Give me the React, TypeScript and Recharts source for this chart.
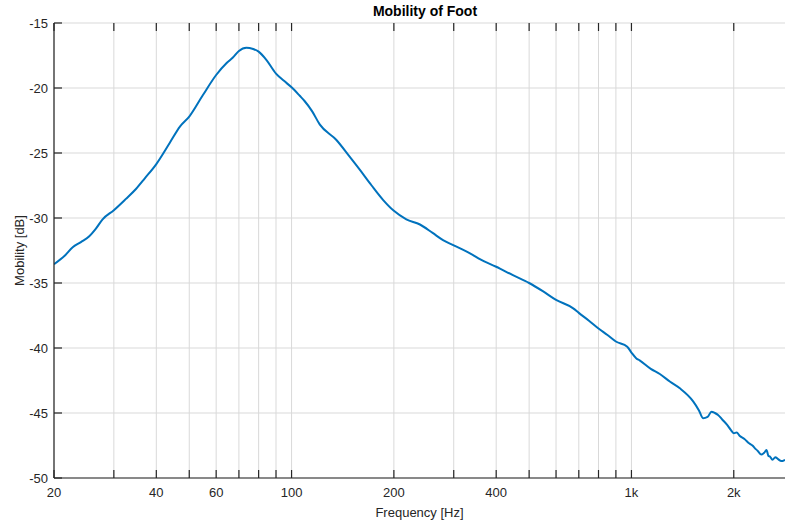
import React from 'react';
import { LineChart, Line, XAxis, YAxis, CartesianGrid, Label } from 'recharts';

const freqs = [
  20, 21.5, 22.7, 24, 25.4, 26.5, 27.8, 30, 32.5, 34.9, 37, 40, 43.7, 47, 50, 54.8, 60, 64.3, 67.2, 70,
  73.6, 77.1, 80, 84.4, 90, 95, 100, 105.7, 109.2, 115, 121, 135.5, 148.4, 158.9, 172, 185.8, 200, 217.6,
  238.6, 260, 279, 300, 342, 357, 400, 448, 500, 550, 600, 674, 700, 750, 800, 850, 900, 972, 1000, 1034,
  1057, 1140, 1212, 1300, 1388, 1519, 1580, 1624, 1675, 1720, 1760, 1798, 1850, 1910, 1960, 2000, 2040,
  2080, 2150, 2224, 2270, 2306, 2350, 2412, 2460, 2496, 2530, 2555, 2600, 2650, 2700, 2760, 2830,
];
const mobility = [
  -33.55, -32.9, -32.25, -31.85, -31.4, -30.85, -30.1, -29.4, -28.55, -27.75, -26.95, -25.85, -24.27, -22.95,
  -22.2, -20.56, -19.0, -18.1, -17.66, -17.15, -16.9, -17.0, -17.2, -17.85, -18.9, -19.45, -19.95, -20.6,
  -21.0, -21.8, -22.8, -24.0, -25.3, -26.3, -27.5, -28.6, -29.45, -30.1, -30.5, -31.15, -31.7, -32.1,
  -32.85, -33.15, -33.75, -34.4, -35.0, -35.65, -36.3, -36.95, -37.3, -37.9, -38.5, -39.0, -39.5, -39.9,
  -40.35, -40.8, -40.95, -41.6, -42.0, -42.6, -43.1, -44.1, -44.8, -45.4, -45.3, -44.9, -45.0, -45.15,
  -45.5, -45.9, -46.3, -46.55, -46.5, -46.75, -47.0, -47.35, -47.5, -47.7, -47.9, -48.2, -48.05, -47.85,
  -48.3, -48.35, -48.6, -48.4, -48.55, -48.7, -48.6,
];

const xGridTicks = [20, 30, 40, 50, 60, 70, 80, 90, 100, 200, 300, 400, 500, 600, 700, 800, 900, 1000, 2000];
const xLabelValues = [20, 40, 60, 100, 200, 400, 1000, 2000];
const xLabelTexts = ['20', '40', '60', '100', '200', '400', '1k', '2k'];
const yTicks = [-50, -45, -40, -35, -30, -25, -20, -15];

const data = freqs.map((f, i) => ({ f, v: mobility[i] }));

const AXIS = '#262626';
const FONT = '"Liberation Sans", Arial, Helvetica, sans-serif';
const CHART_W = 785;
const CHART_H = 522;
const MARGIN_TOP = 23;
const X_AXIS_H = 44;
const PLOT_H = CHART_H - MARGIN_TOP - X_AXIS_H;

const BottomTick = (props: any) => {
  const { x, y, payload } = props;
  const idx = xLabelValues.indexOf(payload.value);
  const top = y - PLOT_H;
  return (
    <g>
      <line x1={x} x2={x} y1={y} y2={y - 8} stroke={AXIS} strokeWidth={1.2} />
      <line x1={x} x2={x} y1={top} y2={top + 8} stroke={AXIS} strokeWidth={1.2} />
      {idx >= 0 && (
        <text x={x} y={y + 14} textAnchor="middle" dominantBaseline="central" fontSize={13} fill={AXIS} fontFamily={FONT}>
          {xLabelTexts[idx]}
        </text>
      )}
    </g>
  );
};

const LeftTick = (props: any) => {
  const { x, y, payload } = props;
  return (
    <g>
      <line x1={x} x2={x + 8} y1={y} y2={y} stroke={AXIS} strokeWidth={1.2} />
      <text x={x - 6} y={y} textAnchor="end" dominantBaseline="central" fontSize={13} fill={AXIS} fontFamily={FONT}>
        {payload.value}
      </text>
    </g>
  );
};

export default function App() {
  return (
    <div style={{ position: 'absolute', left: 0, top: 0, width: CHART_W, height: CHART_H, background: '#fff', fontFamily: FONT }}>
      <div
        style={{
          position: 'absolute',
          left: 325,
          width: 200,
          top: 3,
          textAlign: 'center',
          fontWeight: 'bold',
          fontSize: 14,
          color: '#000',
          fontFamily: FONT,
        }}
      >
        Mobility of Foot
      </div>
      <LineChart width={CHART_W} height={CHART_H} data={data} margin={{ top: MARGIN_TOP, right: 0, bottom: 0, left: 0 }}>
        <CartesianGrid stroke="#d9d9d9" strokeWidth={1} horizontalValues={yTicks} verticalValues={xGridTicks} />
        <XAxis
          xAxisId="top"
          orientation="top"
          dataKey="f"
          type="number"
          scale="log"
          domain={[20, 2830]}
          ticks={xGridTicks}
          height={0}
          tick={false}
          tickLine={false}
          axisLine={{ stroke: AXIS, strokeWidth: 1.2 }}
          allowDataOverflow
        />
        <XAxis
          dataKey="f"
          type="number"
          scale="log"
          domain={[20, 2830]}
          ticks={xGridTicks}
          interval={0}
          height={X_AXIS_H}
          tickSize={0}
          tickMargin={0}
          tickLine={false}
          tick={<BottomTick />}
          axisLine={{ stroke: AXIS, strokeWidth: 1.2 }}
          allowDataOverflow
        >
          <Label value="Frequency [Hz]" position="insideBottom" offset={5} fontSize={13} fill={AXIS} fontFamily={FONT} />
        </XAxis>
        <YAxis
          type="number"
          domain={[-50, -15]}
          ticks={yTicks}
          interval={0}
          width={54}
          tickSize={0}
          tickMargin={0}
          tickLine={false}
          tick={<LeftTick />}
          axisLine={{ stroke: AXIS, strokeWidth: 1.2 }}
          allowDataOverflow
        >
          <Label value="Mobility [dB]" angle={-90} position="insideLeft" offset={19} fontSize={13} fill={AXIS} fontFamily={FONT} style={{ textAnchor: 'middle' }} />
        </YAxis>
        <Line
          dataKey="v"
          type="monotone"
          stroke="#0072BD"
          strokeWidth={2}
          dot={false}
          isAnimationActive={false}
        />
      </LineChart>
    </div>
  );
}
